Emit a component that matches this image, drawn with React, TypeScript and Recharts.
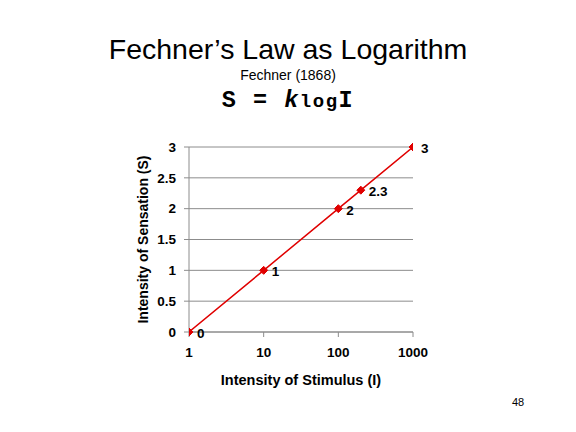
import React from "react";
import { LineChart, Line, XAxis, YAxis, CartesianGrid, LabelList, Label } from "recharts";

const stimulus = [1, 10, 100, 200, 1000];
const sensation = [0, 1, 2, 2.3, 3];
const pointLabels = ["0", "1", "2", "2.3", "3"];
const xTicks = [1, 10, 100, 1000];
const yTicks = [0, 0.5, 1, 1.5, 2, 2.5, 3];

const data = stimulus.map((x, i) => ({ x, y: sensation[i], label: pointLabels[i] }));

const RED = "#e00000";
const FONT = "'Liberation Sans', Arial, sans-serif";

const Diamond = (props: any) => {
  const { cx, cy } = props;
  if (cx == null || cy == null) return null;
  const r = 4;
  return <path d={`M${cx},${cy - r}L${cx + r},${cy}L${cx},${cy + r}L${cx - r},${cy}Z`} fill={RED} stroke={RED} />;
};

const PointLabel = (props: any) => {
  const { x, y, value } = props;
  return (
    <text x={x + 8} y={y + 6} fontFamily={FONT} fontWeight="bold" fontSize={13.5} fill="#000">
      {value}
    </text>
  );
};

export default function App() {
  return (
    <div style={{ position: "absolute", left: 0, top: 0, width: 576, height: 432, background: "#fff" }}>
      <div style={{ position: "absolute", left: 0, top: 32, width: 576, textAlign: "center", fontFamily: FONT, fontSize: 28.5, lineHeight: "34px", color: "#000" }}>
        Fechner’s Law as Logarithm
      </div>
      <div style={{ position: "absolute", left: 0, top: 66, width: 576, textAlign: "center", fontFamily: FONT, fontSize: 14, lineHeight: "18px", color: "#000" }}>
        Fechner (1868)
      </div>
      <div style={{ position: "absolute", left: 0, top: 88, width: 576, textAlign: "center", fontFamily: "'Liberation Mono', 'Courier New', monospace", fontWeight: "bold", fontSize: 23.5, lineHeight: "26px", letterSpacing: 1.5, color: "#000" }}>
        S = <i>k</i><span style={{ fontSize: 19, letterSpacing: 1.5 }}>log</span>I
      </div>
      <div style={{ position: "absolute", left: 512, top: 396, fontFamily: FONT, fontSize: 11, color: "#000" }}>48</div>
      <div style={{ position: "absolute", left: 0, top: 0 }}>
        <LineChart width={576} height={432} data={data} margin={{ top: 147, right: 163, bottom: 70, left: 129 }}>
          <CartesianGrid vertical={false} stroke="#8c8c8c" strokeWidth={1} />
          <XAxis
            dataKey="x"
            type="number"
            scale="log"
            domain={[1, 1000]}
            ticks={xTicks}
            allowDataOverflow
            height={30}
            tickSize={5}
            tickMargin={10}
            stroke="#8c8c8c"
            tick={{ fill: "#000", fontFamily: FONT, fontWeight: "bold", fontSize: 13.5 }}
          >
            <Label value="Intensity of Stimulus (I)" position="bottom" offset={13} style={{ fill: "#000", fontFamily: FONT, fontWeight: "bold", fontSize: 14.5 }} />
          </XAxis>
          <YAxis
            type="number"
            domain={[0, 3]}
            ticks={yTicks}
            width={60}
            tickSize={5}
            tickMargin={8}
            stroke="#8c8c8c"
            tick={{ fill: "#000", fontFamily: FONT, fontWeight: "bold", fontSize: 13.5 }}
          >
            <Label value="Intensity of Sensation (S)" angle={-90} position="insideLeft" offset={14} style={{ textAnchor: "middle", fill: "#000", fontFamily: FONT, fontWeight: "bold", fontSize: 14 }} />
          </YAxis>
          <Line
            dataKey="y"
            stroke={RED}
            strokeWidth={1.5}
            dot={<Diamond />}
            activeDot={false}
            isAnimationActive={false}
          >
            <LabelList dataKey="label" content={<PointLabel />} />
          </Line>
        </LineChart>
      </div>
    </div>
  );
}
